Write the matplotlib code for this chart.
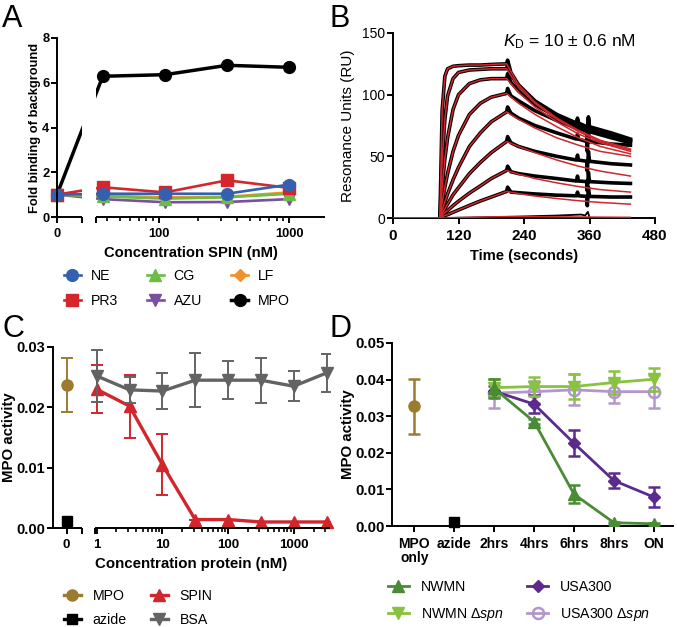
import numpy as np
import matplotlib
matplotlib.use('Agg')
from matplotlib import pyplot as plt

plt.rcParams['font.family'] = 'Liberation Sans'
plt.rcParams['mathtext.fontset'] = 'custom'
plt.rcParams['mathtext.rm'] = 'Liberation Sans'
plt.rcParams['mathtext.it'] = 'Liberation Sans:italic'
plt.rcParams['mathtext.bf'] = 'Liberation Sans:bold'
plt.rcParams['axes.linewidth'] = 1.4
plt.rcParams['xtick.major.width'] = 1.4
plt.rcParams['ytick.major.width'] = 1.4
plt.rcParams['xtick.minor.width'] = 1.2
plt.rcParams['xtick.major.size'] = 4.5
plt.rcParams['ytick.major.size'] = 4
plt.rcParams['xtick.minor.size'] = 2.8
plt.rcParams['ytick.major.pad'] = 1.5
plt.rcParams['font.size'] = 10

###############
# PANEL A DATA
###############
conc_a = [0, 37, 111, 333, 1000]
fold_ne = [1.0, 1.04, 1.04, 1.04, 1.45]
fold_pr3 = [1.0, 1.33, 1.10, 1.64, 1.30]
fold_cg = [1.0, 0.92, 0.82, 0.88, 1.04]
fold_lf = [1.0, 0.95, 0.88, 0.90, 1.10]
fold_azu = [1.0, 0.80, 0.66, 0.67, 0.80]
fold_mpo = [1.0, 6.29, 6.36, 6.78, 6.69]

###############
# PANEL B DATA (sensorgram)
###############
t_on = [86, 90, 95, 100, 110, 120, 140, 160, 180, 208]
t_off = [208, 210, 216, 230, 260, 300, 336, 338, 340, 355, 356, 358, 360, 400, 435]
t_fit = [208, 230, 260, 300, 340, 380, 435]
ru_on = [
    [0, 87, 115, 121, 123, 123.5, 124, 124, 124.5, 125],
    [0, 46, 80, 99, 113, 118, 120, 120.5, 121, 121],
    [0, 24, 48, 65, 88, 100, 109, 112, 113, 113],
    [0, 12, 25, 36, 54, 67, 84, 93, 98, 101],
    [0, 6, 13, 19.5, 31, 41, 58, 69, 78, 86],
    [0, 3.3, 7.5, 11.3, 18.8, 24.6, 36, 45, 53, 62],
    [0, 2, 4.5, 6, 10, 13.6, 20.2, 26, 32, 38.5],
    [0, 1, 2, 2.7, 4.6, 6.5, 10.2, 13.8, 17, 21.5],
]
ru_off = [
    [125, 128, 118, 108, 95, 84, 77, 81, 77, 74, 66, 82, 74, 69, 64],
    [121, 124, 116, 107, 94, 83, 76, 80, 76, 73, 65, 81, 73, 68, 63],
    [113, 117, 110, 103, 92, 82, 75, 79, 75, 72, 64, 80, 72, 67, 62],
    [101, 105, 99, 95, 87, 79, 73, 77, 73, 70, 62, 78, 70, 65, 61],
    [86, 90, 85, 81, 75, 69, 64, 68, 64, 62, 54, 70, 62, 60, 59],
    [62, 66, 61, 58, 54, 50, 47, 51, 47, 46, 38, 54, 46, 44, 43],
    [38.5, 42, 37.5, 36, 34, 32, 30, 34, 30, 29.5, 22, 37, 29.5, 28.5, 28],
    [21.5, 25, 21, 20.5, 19.5, 18.5, 18, 21, 18, 17.5, 10, 25, 17.5, 17, 17],
]
ru_fit = [
    [125, 108, 94, 81, 71, 63, 56],
    [121, 106, 93, 80, 70, 62, 55],
    [113, 102, 90, 78, 68, 61, 54],
    [101, 93, 84, 74, 65, 58, 52],
    [86, 80, 73, 65, 59, 54, 50],
    [62, 58, 53, 47, 42, 38, 34],
    [38.5, 35.5, 32, 28.5, 25.5, 23, 21],
    [21.5, 19.8, 17.8, 15.8, 14, 12.6, 11.2],
]
t_low = [7, 86, 200, 300, 345, 352, 357, 360]
ru_low = [0, 0, 0.8, 2.0, 2.8, 2.0, 5.0, 0.5]
t_low_fit = [0, 86, 208, 435]
ru_low_fit = [0, 0, 1.2, 0.6]

###############
# PANEL C DATA
###############
conc_c = [1, 3.16, 10, 31.6, 100, 316, 1000, 3162]
spin_c = [0.0230, 0.0202, 0.0105, 0.0014, 0.0014, 0.0010, 0.0010, 0.0010]
spin_err = [0.0040, 0.0052, 0.0051, 0, 0, 0, 0, 0]
bsa_c = [0.0252, 0.0229, 0.0227, 0.0245, 0.0245, 0.0245, 0.0235, 0.0257]
bsa_err = [0.0043, 0.0021, 0.0030, 0.0045, 0.0031, 0.0037, 0.0025, 0.0031]
mpo_c, mpo_c_err = 0.0237, 0.0044
azide_c = 0.0011

###############
# PANEL D DATA
###############
groups_d = ['MPO\nonly', 'azide', '2hrs', '4hrs', '6hrs', '8hrs', 'ON']
mpo_d, mpo_d_err = 0.0327, 0.0075
azide_d = 0.0010
nwmn = [0.0376, 0.0285, 0.0087, 0.0009, 0.0006]
nwmn_err = [0.0025, 0.0006, 0.0025, 0.0003, 0.0003]
nwmn_spn = [0.0378, 0.0381, 0.0381, 0.0392, 0.0401]
nwmn_spn_err = [0.0025, 0.0027, 0.0035, 0.0032, 0.0031]
usa = [0.0368, 0.0333, 0.0226, 0.0124, 0.0079]
usa_err = [0.0015, 0.0025, 0.0035, 0.0020, 0.0027]
usa_spn = [0.0363, 0.0367, 0.0372, 0.0367, 0.0367]
usa_spn_err = [0.0040, 0.0030, 0.0042, 0.0032, 0.0045]

# colours
c_ne, c_cg, c_lf = '#3560b0', '#6cbd45', '#f0922b'
c_pr3, c_azu = '#d5262c', '#7a4ea0'
c_gold, c_red, c_grey = '#9c7a30', '#d0262c', '#636363'
c_nw, c_nwd, c_usa, c_usad = '#4a8b36', '#88c33f', '#5b2a8c', '#b396cc'


def broken_log(u0):
    # "0" sits on a linear stub left of a log10 axis
    def fwd(x):
        x = np.asarray(x, dtype=float)
        return np.where(x > 0, np.log10(np.where(x > 0, x, 1.0)), u0 + x)

    def inv(u):
        u = np.asarray(u, dtype=float)
        return np.where(u <= u0, u - u0, 10.0 ** u)
    return fwd, inv


W, H = 677, 627
fig = plt.figure(figsize=(W / 100, H / 100), dpi=100)


def box(l, t, r, b):
    return [l / W, 1 - b / H, (r - l) / W, (b - t) / H]


def style_ticks(ax, axis, size, bold=True):
    labs = ax.get_xticklabels() if axis == 'x' else ax.get_yticklabels()
    for lab in labs:
        lab.set_fontsize(size)
        if bold:
            lab.set_fontweight('bold')


leg_kw = dict(loc='upper left', frameon=False, borderpad=0, borderaxespad=0,
              handlelength=1.2, fontsize=10.2)

#########
# A
#########
axA = fig.add_axes(box(57, 38, 325, 217))
axA.set_xscale('function', functions=broken_log(1.217))
lw = 1.9
ms = 8.5
axA.plot(conc_a, fold_mpo, 'o-', color='k', lw=2.5, ms=ms, label='MPO', clip_on=False, zorder=2)
axA.plot(conc_a, fold_azu, 'v-', color=c_azu, lw=lw, ms=ms, label='AZU', clip_on=False, zorder=2)
axA.plot(conc_a, fold_lf, 'D-', color=c_lf, lw=lw, ms=6, label='LF', clip_on=False, zorder=2)
axA.plot(conc_a, fold_cg, '^-', color=c_cg, lw=lw, ms=ms, label='CG', clip_on=False, zorder=2)
axA.plot(conc_a, fold_pr3, 's-', color=c_pr3, lw=lw, ms=8, label='PR3', clip_on=False, zorder=2)
axA.plot(conc_a, fold_ne, 'o-', color=c_ne, lw=lw, ms=ms, label='NE', clip_on=False, zorder=2)
axA.set_xlim(0, 10 ** 3.274)
axA.set_ylim(0, 8)
axA.set_yticks([0, 2, 4, 6, 8])
axA.set_xticks([0, 10 ** 1.409, 10 ** 1.517, 100, 1000], labels=['0', '', '', '100', '1000'])
axA.set_xticks([40, 50, 60, 70, 80, 90, 200, 300, 400, 500, 600, 700, 800, 900], minor=True)
axA.axvspan(10 ** 1.409, 10 ** 1.517, color='white', zorder=3, lw=0)
axA.spines[['top', 'right', 'bottom']].set_visible(False)
for seg in [(0, 10 ** 1.409), (10 ** 1.517, 10 ** 3.274)]:
    axA.plot(seg, [0, 0], color='k', lw=1.4, transform=axA.get_xaxis_transform(),
             clip_on=False, zorder=4, solid_capstyle='butt')
axA.set_ylabel('Fold binding of background', fontweight='bold', fontsize=9.3)
axA.yaxis.set_label_coords(-0.06, 0.5)
axA.set_xlabel('Concentration SPIN (nM)', fontweight='bold', fontsize=10.6, labelpad=4)
style_ticks(axA, 'x', 9.3)
style_ticks(axA, 'y', 9.3)
hA, lA = axA.get_legend_handles_labels()
order = ['NE', 'PR3', 'CG', 'AZU', 'LF', 'MPO']
fig.legend([hA[lA.index(k)] for k in order], order, bbox_to_anchor=(63.5 / W, 1 - 269 / H),
           ncol=3, handletextpad=0.7, columnspacing=2.05, labelspacing=0.78, **leg_kw)

#########
# B
#########
axB = fig.add_axes(box(393, 33, 655, 218))
axB.plot(t_low, ru_low, color='k', lw=1.3, zorder=2)
for on, off in zip(ru_on, ru_off):
    axB.plot(t_on + t_off[1:], on + off[1:], color='k', lw=2.6, zorder=2)
axB.plot(t_low_fit, ru_low_fit, color=c_red, lw=1.0, zorder=3)
for on, fit in zip(ru_on, ru_fit):
    axB.plot([0] + t_on + t_fit[1:], [0] + on + fit[1:], color=c_red, lw=1.1, zorder=3)
axB.set_xlim(0, 480)
axB.set_ylim(0, 150)
axB.set_xticks([0, 120, 240, 360, 480])
axB.set_yticks([0, 50, 100, 150])
axB.spines[['top', 'right']].set_visible(False)
axB.set_xlabel('Time (seconds)', fontweight='bold', fontsize=10.6, labelpad=4)
axB.set_ylabel('Resonance Units (RU)', fontsize=11)
axB.yaxis.set_label_coords(-0.145, 0.5)
style_ticks(axB, 'x', 11)
style_ticks(axB, 'y', 10, bold=False)
axB.text(201, 143, r'$K_\mathrm{D}$ = 10 $\pm$ 0.6 nM', fontsize=12.5, ha='left', va='center')

#########
# C
#########
axC = fig.add_axes(box(53, 347, 330, 528))
axC.set_xscale('function', functions=broken_log(-0.457))
eb = dict(fmt='none', elinewidth=1.4, capsize=4, capthick=1.4)
axC.errorbar(conc_c, spin_c, yerr=spin_err, ecolor=c_red, zorder=2, **eb)
axC.plot(conc_c, spin_c, '^-', color=c_red, lw=2.4, ms=8, label='SPIN', zorder=2, clip_on=False)
axC.errorbar(conc_c, bsa_c, yerr=bsa_err, ecolor=c_grey, zorder=3, **eb)
axC.plot(conc_c, bsa_c, 'v-', color=c_grey, lw=2.4, ms=8, label='BSA', zorder=3, clip_on=False)
axC.errorbar([0], [mpo_c], yerr=[mpo_c_err], ecolor=c_gold, zorder=2, **eb)
axC.plot([0], [mpo_c], 'o-', color=c_gold, lw=2.4, ms=8, label='MPO', zorder=3)
axC.plot([0], [azide_c], 's-', color='k', lw=2.4, ms=7.5, label='azide', zorder=3, clip_on=False)
axC.set_xlim(-0.208, 3565)
axC.set_ylim(0, 0.03)
axC.set_yticks([0, 0.01, 0.02, 0.03], labels=['0.00', '0.01', '0.02', '0.03'])
axC.set_xticks([0, 0.591, 0.95, 1, 10, 100, 1000], labels=['0', '', '', '1', '10', '100', '1000'])
minC = [m * d for d in (1, 10, 100) for m in range(2, 10)] + [2000, 3000]
axC.set_xticks(minC, minor=True)
axC.spines[['top', 'right', 'bottom']].set_visible(False)
for seg in [(-0.208, 0.591), (0.95, 3565)]:
    axC.plot(seg, [0, 0], color='k', lw=1.4, transform=axC.get_xaxis_transform(),
             clip_on=False, zorder=4, solid_capstyle='butt')
axC.set_ylabel('MPO activity', fontweight='bold', fontsize=10.8)
axC.yaxis.set_label_coords(-0.132, 0.5)
axC.set_xlabel('Concentration protein (nM)', fontweight='bold', fontsize=10.8, labelpad=4)
style_ticks(axC, 'x', 9.5)
style_ticks(axC, 'y', 10.5)
hC, lC = axC.get_legend_handles_labels()
order = ['MPO', 'azide', 'SPIN', 'BSA']
fig.legend([hC[lC.index(k)] for k in order], order, bbox_to_anchor=(63.7 / W, 1 - 589 / H),
           ncol=2, handletextpad=0.83, columnspacing=1.7, labelspacing=0.73, **leg_kw)

#########
# D
#########
axD = fig.add_axes(box(392, 343, 673, 526))
xs = [2, 3, 4, 5, 6]
ebd = dict(fmt='none', elinewidth=1.8, capsize=4, capthick=1.8)
axD.errorbar(xs, usa_spn, yerr=usa_spn_err, ecolor=c_usad, zorder=2, **ebd)
axD.plot(xs, usa_spn, 'o-', color=c_usad, mfc='none', mew=1.8, lw=2, ms=8, label='USA300 Δ$\\mathit{spn}$', zorder=2)
axD.errorbar(xs, usa, yerr=usa_err, ecolor=c_usa, zorder=3, **ebd)
axD.plot(xs, usa, 'D-', color=c_usa, lw=2, ms=6, label='USA300', zorder=3)
axD.errorbar(xs, nwmn_spn, yerr=nwmn_spn_err, ecolor=c_nwd, zorder=4, **ebd)
axD.plot(xs, nwmn_spn, 'v-', color=c_nwd, lw=2, ms=8, label='NWMN Δ$\\mathit{spn}$', zorder=4)
axD.errorbar(xs, nwmn, yerr=nwmn_err, ecolor=c_nw, zorder=5, **ebd)
axD.plot(xs, nwmn, '^-', color=c_nw, lw=2, ms=8, label='NWMN', zorder=5)
axD.errorbar([0], [mpo_d], yerr=[mpo_d_err], ecolor=c_gold, zorder=2, **ebd)
axD.plot([0], [mpo_d], 'o', color=c_gold, ms=8, zorder=3)
axD.plot([1], [azide_d], 's', color='k', ms=7.5, zorder=3, clip_on=False)
axD.set_xlim(-0.56, 6.48)
axD.set_ylim(0, 0.05)
axD.set_yticks([0, 0.01, 0.02, 0.03, 0.04, 0.05], labels=['0.00', '0.01', '0.02', '0.03', '0.04', '0.05'])
axD.set_xticks(range(7), labels=groups_d)
axD.spines[['top', 'right']].set_visible(False)
axD.set_ylabel('MPO activity', fontweight='bold', fontsize=10.8)
axD.yaxis.set_label_coords(-0.132, 0.5)
style_ticks(axD, 'x', 10)
style_ticks(axD, 'y', 10.8)
for lab in axD.get_xticklabels():
    lab.set_linespacing(0.95)
hD, lD = axD.get_legend_handles_labels()
order = ['NWMN', 'NWMN Δ$\\mathit{spn}$', 'USA300', 'USA300 Δ$\\mathit{spn}$']
leg_d = dict(leg_kw, handlelength=1.45)
fig.legend([hD[lD.index(k)] for k in order], order, bbox_to_anchor=(388 / W, 1 - 580 / H),
           ncol=2, handletextpad=0.86, columnspacing=1.67, labelspacing=0.87, **leg_d)

# panel letters
for x, y, s in [(2, 4, 'A'), (330, 4, 'B'), (2, 314, 'C'), (330, 314, 'D')]:
    fig.text(x / W, 1 - y / H, s, fontsize=22, ha='left', va='top')

plt.savefig('out.png', dpi=100)
